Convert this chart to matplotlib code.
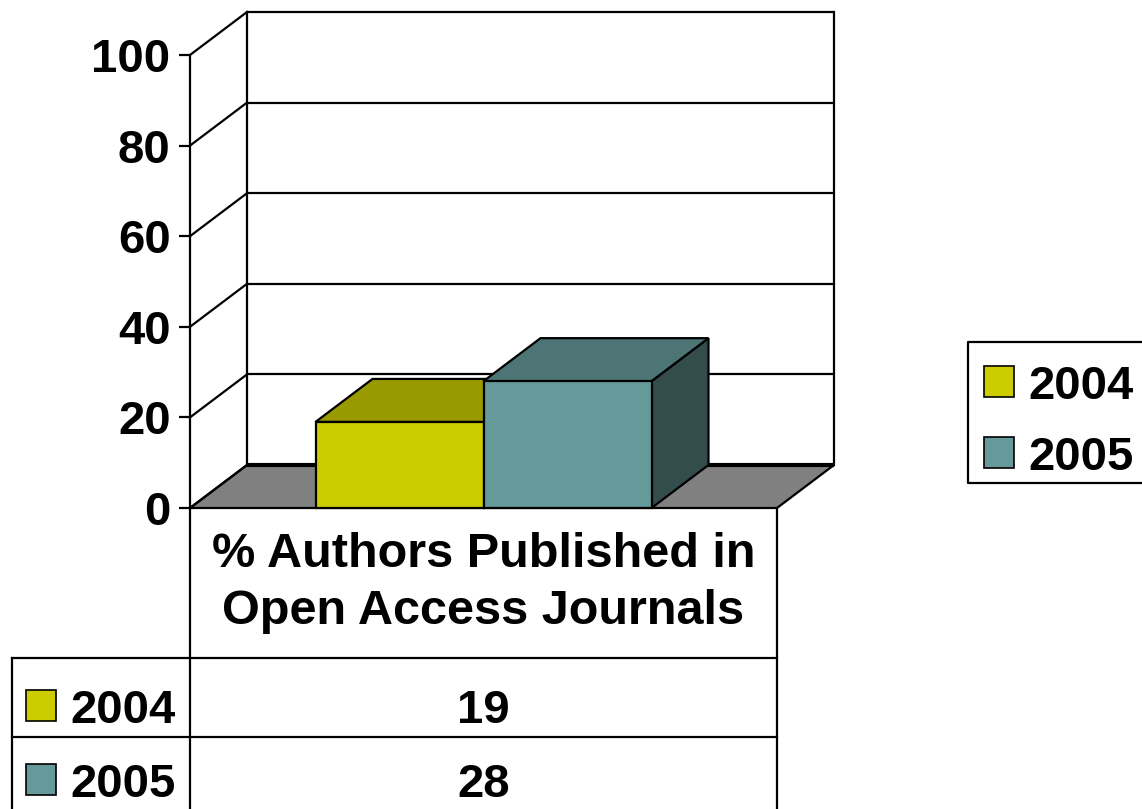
import matplotlib
matplotlib.use('Agg')
import matplotlib.pyplot as plt
from matplotlib.patches import Polygon, Rectangle

# Daten
category = '% Authors Published in\nOpen Access Journals'
years = ['2004', '2005']
values = [19, 28]
yticks = [0, 20, 40, 60, 80, 100]

# Farben (Vorderseite, Oberseite, Seite)
front_colors = ['#CCCC00', '#669999']
top_colors = ['#999900', '#4D7575']
side_colors = ['#666600', '#334D4D']
floor_color = '#808080'

plt.rcParams.update({
    'font.family': ['Liberation Sans', 'DejaVu Sans'],
    'font.weight': 'bold',
    'font.size': 33,
})

W, H = 1142, 809
fig = plt.figure(figsize=(W / 100, H / 100), dpi=100)

# Hintergrund-Achse in Pixelkoordinaten (Tabelle, Legende)
bg = fig.add_axes([0, 0, 1, 1])
bg.set_xlim(0, W)
bg.set_ylim(H, 0)
bg.axis('off')

# Diagramm-Achse: vordere Ebene
x_left, x_right, y_bottom, y_top = 190, 777, 508, 55
ax = fig.add_axes([x_left / W, (H - y_bottom) / H, (x_right - x_left) / W, (y_bottom - y_top) / H])
ax.set_xlim(0, 1)
ax.set_ylim(0, 100)
ax.patch.set_visible(False)
for s in ['top', 'right', 'bottom']:
    ax.spines[s].set_visible(False)
ax.spines['left'].set_linewidth(1.6)
ax.set_xticks([])
ax.set_yticks(yticks)
ax.set_yticklabels([str(t) for t in yticks], fontweight='bold')
ax.tick_params(axis='y', length=8, width=1.6, pad=6, labelsize=34)

# Tiefenversatz (3D-Effekt) in Datenkoordinaten
DX = 57 / (x_right - x_left)
DY = 43 / ((y_bottom - y_top) / 100)
lw = 1.6

# Boden
ax.add_patch(Polygon([(0, 0), (1, 0), (1 + DX, DY), (DX, DY)], closed=True,
                     facecolor=floor_color, edgecolor='black', lw=lw, clip_on=False, zorder=1))

# Rückwand mit Gitterlinien
for v in yticks:
    ax.plot([0, DX], [v, v + DY], color='black', lw=lw, clip_on=False, zorder=1.5)
    ax.plot([DX, 1 + DX], [v + DY, v + DY], color='black', lw=3 if v == 0 else lw,
            clip_on=False, zorder=1.5, solid_capstyle='butt')
ax.plot([DX, DX], [DY, 100 + DY], color='black', lw=lw, clip_on=False, zorder=1.5)
ax.plot([1 + DX, 1 + DX], [DY, 100 + DY], color='black', lw=lw, clip_on=False, zorder=1.5)

# Balken
bar_w = 168 / (x_right - x_left)
for i, val in enumerate(values):
    x0 = 0.5 - bar_w + i * bar_w
    x1 = x0 + bar_w
    z = 2 + i
    side = [(x1, 0), (x1 + DX, DY), (x1 + DX, val + DY), (x1, val)]
    top = [(x0, val), (x1, val), (x1 + DX, val + DY), (x0 + DX, val + DY)]
    front = [(x0, 0), (x1, 0), (x1, val), (x0, val)]
    ax.add_patch(Polygon(side, closed=True, facecolor=side_colors[i], edgecolor='black',
                         lw=lw, clip_on=False, zorder=z))
    ax.add_patch(Polygon(top, closed=True, facecolor=top_colors[i], edgecolor='black',
                         lw=lw, clip_on=False, zorder=z))
    ax.add_patch(Polygon(front, closed=True, facecolor=front_colors[i], edgecolor='black',
                         lw=lw, clip_on=False, zorder=z))

# Datentabelle
bg.plot([x_left, x_left], [y_bottom, H], color='black', lw=lw)
bg.plot([x_right, x_right], [y_bottom, H], color='black', lw=lw)
bg.plot([12, 12], [658, H], color='black', lw=lw)
row_tops = [658, 737]
for rt in row_tops:
    bg.plot([12, x_right], [rt, rt], color='black', lw=lw)
bg.text((x_left + x_right) / 2, 583, category, ha='center', va='center',
        fontsize=35, fontweight='bold', linespacing=1.33)
baselines = [723, 797]
for i, (yr, val) in enumerate(zip(years, values)):
    rt = row_tops[i]
    bg.add_patch(Rectangle((26, baselines[i] - 33), 30, 31, facecolor=front_colors[i],
                           edgecolor='black', lw=1.2))
    bg.text(70, baselines[i], yr, ha='left', va='baseline', fontsize=34, fontweight='bold')
    bg.text((x_left + x_right) / 2, baselines[i], str(val), ha='center', va='baseline',
            fontsize=34, fontweight='bold')

# Legende (rechter Rand abgeschnitten)
bg.plot([1160, 968, 968, 1160], [342, 342, 483, 483], color='black', lw=lw)
for i, yr in enumerate(years):
    sy = 366 + i * 71
    bg.add_patch(Rectangle((984, sy), 30, 31, facecolor=front_colors[i],
                           edgecolor='black', lw=1.2))
    bg.text(1028, sy + 33, yr, ha='left', va='baseline', fontsize=34, fontweight='bold')

fig.savefig('out.png', dpi=100)
